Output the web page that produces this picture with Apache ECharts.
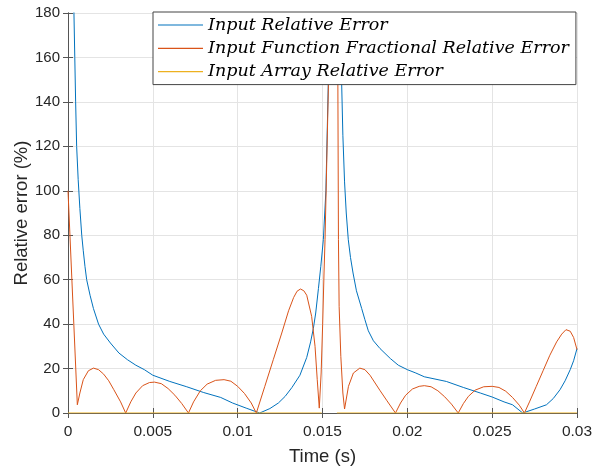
<!DOCTYPE html>
<html>
<head>
<meta charset="utf-8">
<script src="https://cdn.jsdelivr.net/npm/echarts@6/dist/echarts.min.js"></script>
<style>
  html, body { margin: 0; padding: 0; background: #fff; }
  #chart { width: 593px; height: 468px; }
</style>
</head>
<body>
<div id="chart"></div>
<script>
// series names
const seriesNames = [
  "Input Relative Error",
  "Input Function Fractional Relative Error",
  "Input Array Relative Error",
];

// Input Relative Error
const relTime = [0.0003, 0.00035, 0.0004, 0.00045, 0.00051, 0.0006, 0.0007, 0.00081, 0.0009, 0.001,
  0.0011, 0.0013, 0.0015, 0.0018, 0.0021, 0.0025, 0.003, 0.0035, 0.004, 0.0045,
  0.005, 0.006, 0.007, 0.008, 0.009, 0.0097, 0.0105, 0.0113, 0.0119, 0.0124,
  0.0128, 0.0132, 0.01367, 0.01407, 0.0143, 0.01446, 0.0146, 0.01476, 0.0149, 0.01505,
  0.0152, 0.01534, 0.0154, 0.0155, 0.016, 0.01607, 0.01613, 0.0162, 0.0163, 0.0164,
  0.01652, 0.01665, 0.0168, 0.017, 0.01731, 0.0175, 0.0177, 0.018, 0.01839, 0.019,
  0.01947, 0.02, 0.0205, 0.021, 0.0223, 0.0233, 0.0243, 0.025, 0.0257, 0.0262,
  0.0268, 0.0275, 0.0282, 0.0286, 0.029, 0.0293, 0.0296, 0.0298, 0.03];
const relErr = [200, 180, 160, 140, 120, 105, 92, 80, 73, 66,
  60, 53, 47, 40, 35.5, 31.5, 27, 24, 21.5, 19.5,
  17, 14.2, 11.8, 9.2, 7, 4.5, 2.2, 0, 2, 4.5,
  7.5, 11.5, 17, 25, 32, 38, 45, 56, 66, 78,
  100, 148, 180, 240, 240, 180, 148, 125, 104, 90,
  78, 70, 63, 55, 47, 42, 37, 32.5, 29, 24.5,
  21.5, 19.5, 18, 16.3, 14.2, 11.5, 9, 7.2, 5, 3.7,
  0, 1.8, 3.7, 6.5, 10.5, 14.5, 19.5, 23.5, 29];

// Input Function Fractional Relative Error
const fracTime = [0, 0.00055, 0.0007, 0.0009, 0.0012, 0.0015, 0.0018, 0.0021, 0.0024, 0.0027,
  0.0031, 0.0034, 0.0037, 0.004, 0.0044, 0.0048, 0.0051, 0.0055, 0.0059, 0.0063,
  0.0067, 0.0071, 0.0074, 0.0078, 0.0082, 0.0087, 0.0092, 0.0096, 0.01, 0.0104,
  0.0108, 0.0111, 0.0116, 0.0121, 0.0126, 0.013, 0.0133, 0.0135, 0.0137, 0.0139,
  0.01407, 0.01436, 0.01456, 0.01469, 0.01481, 0.01492, 0.01501, 0.01509, 0.01515, 0.01535,
  0.0157, 0.0159, 0.01594, 0.01598, 0.01608, 0.0162, 0.0163, 0.01653, 0.01682, 0.0172,
  0.0175, 0.0178, 0.0181, 0.0184, 0.0188, 0.0193, 0.0196, 0.0199, 0.0203, 0.0207,
  0.021, 0.0214, 0.0218, 0.0222, 0.0226, 0.023, 0.0233, 0.0236, 0.024, 0.0245,
  0.025, 0.0254, 0.0258, 0.0262, 0.0266, 0.0269, 0.0272, 0.0276, 0.028, 0.0284,
  0.0288, 0.0291, 0.02935, 0.0296, 0.0298, 0.03];
const fracErr = [100, 3.7, 9, 15, 19, 20.2, 19.5, 17.5, 14.5, 10.5,
  5, 0, 5, 9, 12.3, 13.7, 13.9, 13.2, 11, 8,
  4.3, 0, 5, 10, 13, 14.7, 15, 14.3, 12, 8.8,
  4.5, 0, 12, 24, 36, 46, 52, 54.8, 55.8, 55,
  53, 43.5, 30, 15, 2.2, 18, 40, 63, 78, 148,
  265, 160, 78, 48, 25.5, 9, 1.8, 12, 18, 20.2,
  19.5, 17, 13.5, 10, 5.5, 0, 4.5, 8, 10.8, 12,
  12.3, 11.8, 10, 7.3, 4, 0, 4.2, 7.5, 10.3, 11.8,
  12, 11.5, 9.8, 7, 3.5, 0, 5, 12, 19, 26,
  32, 35.5, 37.5, 36.8, 34, 28.5];

// Input Array Relative Error (flat at zero, missing round the spike)
const arrTime = [0, 0.01495, 0.0154, 0.01585, 0.03];
const arrErr = [0, 0, "-", 0, 0];

const xTickLabels = ["0", "0.005", "0.01", "0.015", "0.02", "0.025", "0.03"];

const colors = ["#0072BD", "#D95319", "#EDB120"];

const zip = (xs, ys) => xs.map((x, i) => [x, ys[i]]);

const chart = echarts.init(document.getElementById("chart"));

const axisColor = "#555";
const textColor = "#262626";
const gridColor = "#e4e4e4";

const xBase = {
  type: "value",
  min: 0,
  max: 0.03,
  interval: 0.005,
  axisLine: { show: true, lineStyle: { color: axisColor, width: 1 } },
  axisTick: { show: true, inside: true, length: 5, lineStyle: { color: axisColor } },
  splitLine: { show: false },
};
const yBase = {
  type: "value",
  min: 0,
  max: 180,
  interval: 20,
  axisLine: { show: true, lineStyle: { color: axisColor, width: 1 } },
  axisTick: { show: true, inside: true, length: 5, lineStyle: { color: axisColor } },
  splitLine: { show: false },
};

const option = {
  animation: false,
  backgroundColor: "#fff",
  grid: { left: 68, right: 16, top: 13, bottom: 55, containLabel: false, outerBoundsMode: "none" },
  legend: {
    orient: "vertical",
    left: 153,
    top: 12,
    padding: [3, 7, 3, 5],
    itemGap: 3.3,
    itemWidth: 45,
    itemHeight: 1.2,
    icon: "rect",
    backgroundColor: "#fff",
    borderColor: "#444",
    borderWidth: 1,
    borderRadius: 0,
    textStyle: {
      fontFamily: "DejaVu Serif",
      fontStyle: "italic",
      fontSize: 17.5,
      lineHeight: 20,
      color: "#000",
    },
    data: seriesNames,
  },
  xAxis: [
    {
      ...xBase,
      position: "bottom",
      name: "Time (s)",
      nameLocation: "middle",
      nameGap: 34,
      nameMoveOverlap: false,
      nameTextStyle: { fontFamily: "Liberation Sans", fontSize: 18.5, color: textColor },
      axisLabel: {
        margin: 11,
        fontFamily: "Liberation Sans",
        fontSize: 15.5,
        color: textColor,
        formatter: (v) => xTickLabels[Math.round(v / 0.005)],
      },
      splitLine: { show: true, lineStyle: { color: gridColor, width: 1 } },
    },
    { ...xBase, position: "top", axisLabel: { show: false } },
  ],
  yAxis: [
    {
      ...yBase,
      position: "left",
      name: "Relative error (%)",
      nameLocation: "middle",
      nameGap: 37,
      nameMoveOverlap: false,
      nameTextStyle: { fontFamily: "Liberation Sans", fontSize: 18.5, color: textColor },
      axisLabel: { margin: 8, fontFamily: "Liberation Sans", fontSize: 15, color: textColor },
      splitLine: { show: true, lineStyle: { color: gridColor, width: 1 } },
    },
    { ...yBase, position: "right", axisLabel: { show: false } },
  ],
  series: [
    { name: seriesNames[0], data: zip(relTime, relErr), color: colors[0] },
    { name: seriesNames[1], data: zip(fracTime, fracErr), color: colors[1] },
    { name: seriesNames[2], data: zip(arrTime, arrErr), color: colors[2] },
  ].map((s) => ({
    ...s,
    type: "line",
    xAxisIndex: 0,
    yAxisIndex: 0,
    symbol: "none",
    clip: true,
    connectNulls: false,
    lineStyle: { width: 1, color: s.color },
    itemStyle: { color: s.color },
  })),
};

chart.setOption(option);
</script>
</body>
</html>
